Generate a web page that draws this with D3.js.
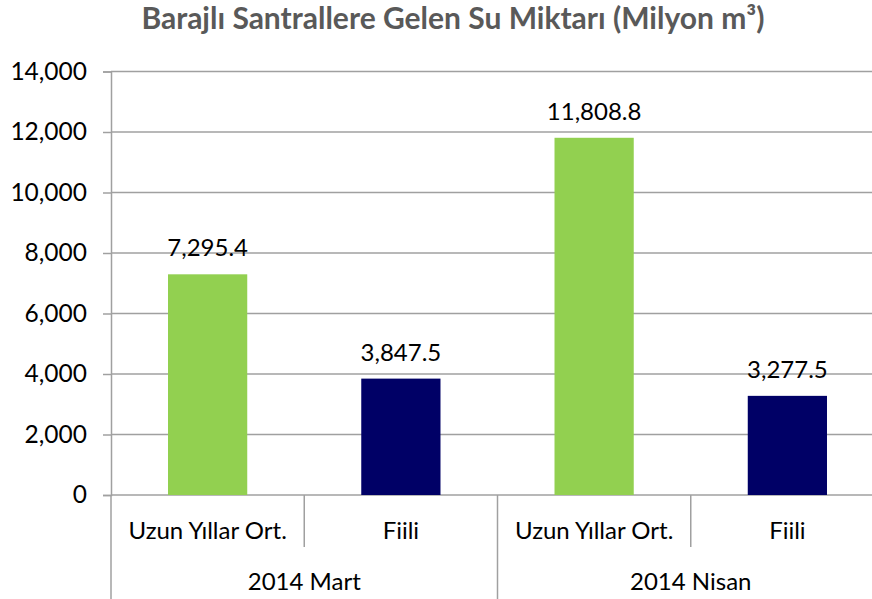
<!DOCTYPE html>
<html>
<head>
<meta charset="utf-8">
<script src="https://cdn.jsdelivr.net/npm/d3@7"></script>
<style>
  body { margin: 0; background: #fff; }
  svg { display: block; }
</style>
</head>
<body>
<script>
// chart data
const groups = ["2014 Mart", "2014 Nisan"];
const subLabels = ["Uzun Yıllar Ort.", "Fiili"];
const values = [7295.4, 3847.5, 11808.8, 3277.5];
const yTicks = [0, 2000, 4000, 6000, 8000, 10000, 12000, 14000];
const barColors = ["#92D050", "#000066"];

const width = 872;
const height = 599;
const font = "Lato, 'Noto Sans', sans-serif";

// plot box (right edge runs past the window like the original)
const plotLeft = 111, plotRight = 884, plotTop = 71.5, plotBottom = 495;

const svg = d3.select("body").append("svg")
  .attr("width", width)
  .attr("height", height);

// build one row per bar
const rows = values.map((v, i) => ({
  key: i,
  group: groups[Math.floor(i / subLabels.length)],
  label: subLabels[i % subLabels.length],
  value: v
}));

const x = d3.scaleBand()
  .domain(rows.map(d => d.key))
  .range([plotLeft, plotRight])
  .paddingInner(0.59)
  .paddingOuter(0.295);

const y = d3.scaleLinear()
  .domain([0, 14000])
  .range([plotBottom, plotTop]);

// gridlines
svg.append("g")
  .selectAll("line")
  .data(yTicks)
  .join("line")
  .attr("x1", plotLeft)
  .attr("x2", plotRight)
  .attr("y1", d => y(d))
  .attr("y2", d => y(d))
  .attr("stroke", "#a0a0a0")
  .attr("stroke-width", 1.5);

// y axis
const yAxis = svg.append("g")
  .attr("transform", `translate(${plotLeft},0)`)
  .call(d3.axisLeft(y).tickValues(yTicks).tickFormat(d3.format(",")).tickSize(8).tickPadding(16));
yAxis.select(".domain").attr("stroke", "#a0a0a0").attr("stroke-width", 1.5);
yAxis.selectAll(".tick line").attr("stroke", "#a0a0a0").attr("stroke-width", 1.5);
yAxis.selectAll("text")
  .attr("font-family", font)
  .attr("font-size", 24.5)
  .attr("fill", "#000");

// bars
svg.append("g")
  .selectAll("rect")
  .data(rows)
  .join("rect")
  .attr("x", d => x(d.key))
  .attr("y", d => y(d.value))
  .attr("width", x.bandwidth())
  .attr("height", d => y(0) - y(d.value))
  .attr("fill", (d, i) => barColors[i % barColors.length]);

// value labels
svg.append("g")
  .selectAll("text")
  .data(rows)
  .join("text")
  .attr("x", d => x(d.key) + x.bandwidth() / 2)
  .attr("y", d => y(d.value) - 18)
  .attr("text-anchor", "middle")
  .attr("font-family", font)
  .attr("font-size", 24)
  .text(d => d3.format(",.1f")(d.value));

// category separators: short between sub labels, long between groups
const step = x.step();
const bounds = d3.range(rows.length + 1).map(i => plotLeft + i * step);
svg.append("g")
  .selectAll("line")
  .data(bounds)
  .join("line")
  .attr("x1", d => d)
  .attr("x2", d => d)
  .attr("y1", plotBottom)
  .attr("y2", (d, i) => i % subLabels.length === 0 ? height : plotBottom + 52)
  .attr("stroke", "#a0a0a0")
  .attr("stroke-width", 1.5);

// sub labels
svg.append("g")
  .selectAll("text")
  .data(rows)
  .join("text")
  .attr("x", d => x(d.key) + x.bandwidth() / 2)
  .attr("y", 539)
  .attr("text-anchor", "middle")
  .attr("font-family", font)
  .attr("font-size", 24)
  .text(d => d.label);

// group labels
svg.append("g")
  .selectAll("text")
  .data(groups)
  .join("text")
  .attr("x", (d, i) => plotLeft + (i + 0.5) * step * subLabels.length)
  .attr("y", 590)
  .attr("text-anchor", "middle")
  .attr("font-family", font)
  .attr("font-size", 24)
  .text(d => d);

// title
svg.append("text")
  .attr("x", 453)
  .attr("y", 29)
  .attr("text-anchor", "middle")
  .attr("font-family", font)
  .attr("font-weight", "bold")
  .attr("font-size", 30)
  .attr("fill", "#595959")
  .text("Barajlı Santrallere Gelen Su Miktarı (Milyon m³)");
</script>
</body>
</html>
